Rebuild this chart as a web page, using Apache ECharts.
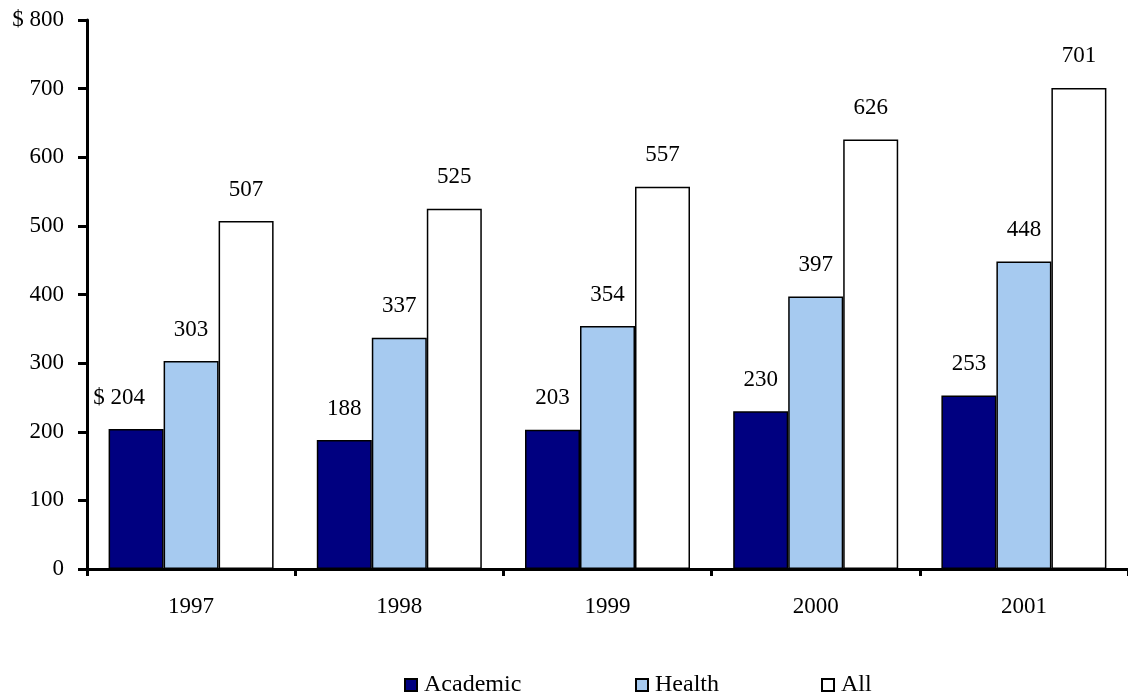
<!DOCTYPE html>
<html><head><meta charset="utf-8">
<script src="https://cdn.jsdelivr.net/npm/echarts@6/dist/echarts.min.js"></script>
<style>html,body{margin:0;padding:0;background:#fff}#c{width:1128px;height:698px}</style>
</head><body><div id="c"></div>
<script>
const categories = ['1997','1998','1999','2000','2001'];
const academic = [204, 188, 203, 230, 253];
const health = [303, 337, 354, 397, 448];
const all = [507, 525, 557, 626, 701];
const yTicks = [0,100,200,300,400,500,600,700,800];
const seriesNames = ['Academic','Health','All'];

const FONT = 'Liberation Serif';
const FS = 23;
const chart = echarts.init(document.getElementById('c'));
function lbl(fmt){
  return {show:true, position:'top', distance:20, color:'#000', fontFamily:FONT, fontSize:FS, formatter:fmt};
}
const legendLefts = [399, 630, 816];
const academicData = academic.map((v,i) => i===0 ? {value:v, label:{offset:[-17,0]}} : v);
chart.setOption({
  animation:false,
  textStyle:{fontFamily:FONT},
  grid:{left:87, top:20, bottom:129, width:1044},
  legend: seriesNames.map((n,i) => ({
    left:legendLefts[i], top:668, itemWidth:12, itemHeight:12, icon:'rect', itemGap:0,
    textStyle:{fontFamily:FONT, fontSize:24, color:'#000', padding:[0,0,0,2]},
    data:[n]
  })),
  xAxis:{
    type:'category', data:categories, boundaryGap:true,
    axisLine:{lineStyle:{color:'#000', width:3}},
    axisTick:{show:true, length:7, lineStyle:{color:'#000', width:3}},
    axisLabel:{color:'#000', fontFamily:FONT, fontSize:FS, margin:26}
  },
  yAxis:{
    type:'value', min:yTicks[0], max:yTicks[yTicks.length-1], interval:100,
    axisLine:{show:true, lineStyle:{color:'#000', width:3}},
    axisTick:{show:true, length:9, lineStyle:{color:'#000', width:3}},
    splitLine:{show:false},
    axisLabel:{color:'#000', fontFamily:FONT, fontSize:FS, margin:23,
      formatter:v => v===800 ? '$ 800' : String(v)}
  },
  series:[
    {name:'Academic', type:'bar', data:academicData, barWidth:55, barGap:'0%',
     itemStyle:{color:'#000080', borderColor:'#000', borderWidth:1.5},
     label:lbl(p => p.dataIndex===0 ? '$ ' + p.value : String(p.value))},
    {name:'Health', type:'bar', data:health, barWidth:55, barGap:'0%',
     itemStyle:{color:'#A6CAF0', borderColor:'#000', borderWidth:1.5},
     label:lbl(p => String(p.value))},
    {name:'All', type:'bar', data:all, barWidth:55, barGap:'0%',
     itemStyle:{color:'#fff', borderColor:'#000', borderWidth:1.5},
     label:lbl(p => String(p.value))}
  ]
});
</script></body></html>
